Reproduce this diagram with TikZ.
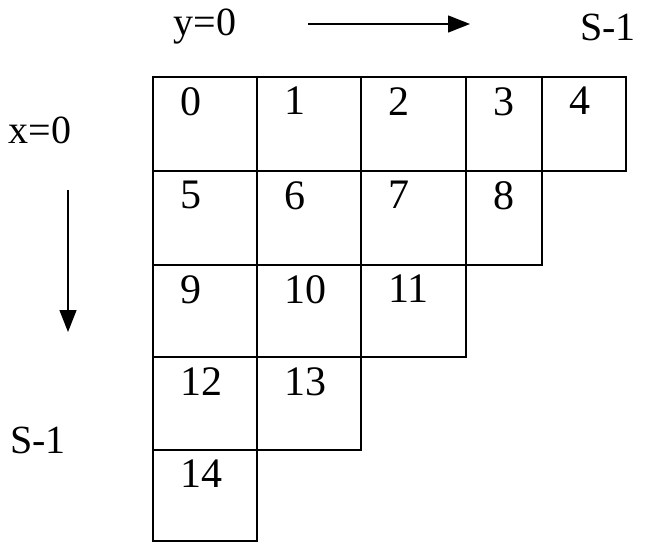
\documentclass[tikz,border=0pt]{standalone}
\usepackage{fontspec}
\setmainfont{Liberation Serif}
\usetikzlibrary{positioning, arrows.meta}
\begin{document}
\begin{tikzpicture}[x=1pt,y=-1pt,
        cell/.style={% one box of the staircase
            rectangle,
            draw,
            line width=1.6pt,
            anchor=north west,
            inner sep=0pt,
            },
        num/.style={% number in a box
            anchor=north west,
            inner sep=0pt,
            font=\fontsize{42}{46}\selectfont,
            },
        axis/.style={% outer labels
            inner sep=0pt,
            font=\fontsize{40}{44}\selectfont,
            },
        ArrowA/.style={% axis arrows
            -{Triangle[length=22pt,width=17pt]},
            line width=1.4pt,
            },
            ]
        \useasboundingbox (0,0) rectangle (645,544);
        % boxes named c#, widths and heights from the columns and rows
        \foreach \n/\x/\y/\w/\h in {0/152/76/104/94, 1/256/76/104/94, 2/360/76/105/94, 3/465/76/76/94, 4/541/76/84/94,
                                    5/152/170/104/94, 6/256/170/104/94, 7/360/170/105/94, 8/465/170/76/94,
                                    9/152/264/104/92, 10/256/264/104/92, 11/360/264/105/92,
                                    12/152/356/104/93, 13/256/356/104/93,
                                    14/152/449/104/91}{
            \node[cell, minimum width=\w pt, minimum height=\h pt] (c\n) at (\x,\y) {};
            \node[num] (n\n) at ([xshift=28pt,yshift=-11pt]c\n.north west) {\n};
        }
        % axis labels
        \node[axis] (y0) at (205,27) {y=0};
        \node[axis] (ys) at (608,27) {S-1};
        \node[axis] (x0) at (40,130) {x=0};
        \node[axis] (xs) at (38,440) {S-1};
        \coordinate (ya) at (308,24);
        \coordinate (yb) at (470,24);
        \coordinate (xa) at (68,190);
        \coordinate (xb) at (68,332);
        \draw[ArrowA] (ya) -- (yb);
        \draw[ArrowA] (xa) -- (xb);
\end{tikzpicture}
\end{document}
